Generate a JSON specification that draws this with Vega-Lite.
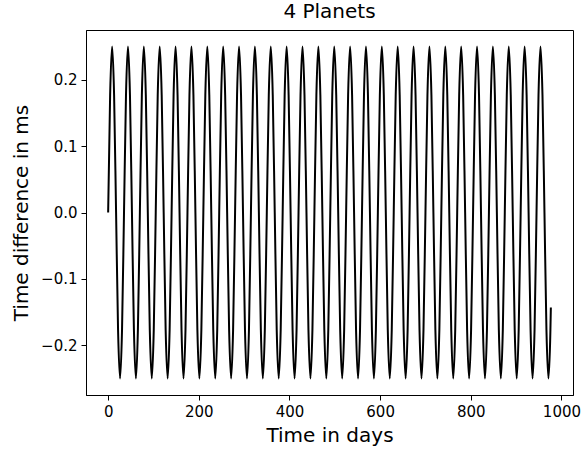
{
  "$schema": "https://vega.github.io/schema/vega-lite/v6.json",
  "width": 487,
  "height": 365,
  "autosize": {"type": "none"},
  "padding": {"left": 86, "top": 30, "right": 9, "bottom": 57},
  "background": "white",
  "config": {
    "font": "DejaVu Sans",
    "view": {"stroke": "#000000", "strokeWidth": 1},
    "axis": {
      "grid": false,
      "domainColor": "#000000",
      "domainWidth": 1,
      "tickColor": "#000000",
      "tickWidth": 1,
      "tickSize": 5,
      "labelColor": "#000000",
      "titleColor": "#000000",
      "labelFont": "DejaVu Sans",
      "titleFont": "DejaVu Sans",
      "labelFontSize": 15,
      "titleFontSize": 20,
      "titleFontWeight": "normal"
    },
    "title": {"font": "DejaVu Sans", "fontSize": 20, "fontWeight": "normal", "color": "#000000", "offset": 8}
  },
  "title": {"text": "4 Planets", "anchor": "middle", "frame": "group"},
  "data": {
    "values": [
      {"day": 0, "dt": 0}, {"day": 4.375, "dt": 0.177}, {"day": 8.75, "dt": 0.25}, {"day": 13.125, "dt": 0.177}, {"day": 17.5, "dt": 0}, {"day": 21.875, "dt": -0.177}, {"day": 26.25, "dt": -0.25}, {"day": 30.625, "dt": -0.177},
      {"day": 35, "dt": 0}, {"day": 39.375, "dt": 0.177}, {"day": 43.75, "dt": 0.25}, {"day": 48.125, "dt": 0.177}, {"day": 52.5, "dt": 0}, {"day": 56.875, "dt": -0.177}, {"day": 61.25, "dt": -0.25}, {"day": 65.625, "dt": -0.177},
      {"day": 70, "dt": 0}, {"day": 74.375, "dt": 0.177}, {"day": 78.75, "dt": 0.25}, {"day": 83.125, "dt": 0.177}, {"day": 87.5, "dt": 0}, {"day": 91.875, "dt": -0.177}, {"day": 96.25, "dt": -0.25}, {"day": 100.625, "dt": -0.177},
      {"day": 105, "dt": 0}, {"day": 109.375, "dt": 0.177}, {"day": 113.75, "dt": 0.25}, {"day": 118.125, "dt": 0.177}, {"day": 122.5, "dt": 0}, {"day": 126.875, "dt": -0.177}, {"day": 131.25, "dt": -0.25}, {"day": 135.625, "dt": -0.177},
      {"day": 140, "dt": 0}, {"day": 144.375, "dt": 0.177}, {"day": 148.75, "dt": 0.25}, {"day": 153.125, "dt": 0.177}, {"day": 157.5, "dt": 0}, {"day": 161.875, "dt": -0.177}, {"day": 166.25, "dt": -0.25}, {"day": 170.625, "dt": -0.177},
      {"day": 175, "dt": 0}, {"day": 179.375, "dt": 0.177}, {"day": 183.75, "dt": 0.25}, {"day": 188.125, "dt": 0.177}, {"day": 192.5, "dt": 0}, {"day": 196.875, "dt": -0.177}, {"day": 201.25, "dt": -0.25}, {"day": 205.625, "dt": -0.177},
      {"day": 210, "dt": 0}, {"day": 214.375, "dt": 0.177}, {"day": 218.75, "dt": 0.25}, {"day": 223.125, "dt": 0.177}, {"day": 227.5, "dt": 0}, {"day": 231.875, "dt": -0.177}, {"day": 236.25, "dt": -0.25}, {"day": 240.625, "dt": -0.177},
      {"day": 245, "dt": 0}, {"day": 249.375, "dt": 0.177}, {"day": 253.75, "dt": 0.25}, {"day": 258.125, "dt": 0.177}, {"day": 262.5, "dt": 0}, {"day": 266.875, "dt": -0.177}, {"day": 271.25, "dt": -0.25}, {"day": 275.625, "dt": -0.177},
      {"day": 280, "dt": 0}, {"day": 284.375, "dt": 0.177}, {"day": 288.75, "dt": 0.25}, {"day": 293.125, "dt": 0.177}, {"day": 297.5, "dt": 0}, {"day": 301.875, "dt": -0.177}, {"day": 306.25, "dt": -0.25}, {"day": 310.625, "dt": -0.177},
      {"day": 315, "dt": 0}, {"day": 319.375, "dt": 0.177}, {"day": 323.75, "dt": 0.25}, {"day": 328.125, "dt": 0.177}, {"day": 332.5, "dt": 0}, {"day": 336.875, "dt": -0.177}, {"day": 341.25, "dt": -0.25}, {"day": 345.625, "dt": -0.177},
      {"day": 350, "dt": 0}, {"day": 354.375, "dt": 0.177}, {"day": 358.75, "dt": 0.25}, {"day": 363.125, "dt": 0.177}, {"day": 367.5, "dt": 0}, {"day": 371.875, "dt": -0.177}, {"day": 376.25, "dt": -0.25}, {"day": 380.625, "dt": -0.177},
      {"day": 385, "dt": 0}, {"day": 389.375, "dt": 0.177}, {"day": 393.75, "dt": 0.25}, {"day": 398.125, "dt": 0.177}, {"day": 402.5, "dt": 0}, {"day": 406.875, "dt": -0.177}, {"day": 411.25, "dt": -0.25}, {"day": 415.625, "dt": -0.177},
      {"day": 420, "dt": 0}, {"day": 424.375, "dt": 0.177}, {"day": 428.75, "dt": 0.25}, {"day": 433.125, "dt": 0.177}, {"day": 437.5, "dt": 0}, {"day": 441.875, "dt": -0.177}, {"day": 446.25, "dt": -0.25}, {"day": 450.625, "dt": -0.177},
      {"day": 455, "dt": 0}, {"day": 459.375, "dt": 0.177}, {"day": 463.75, "dt": 0.25}, {"day": 468.125, "dt": 0.177}, {"day": 472.5, "dt": 0}, {"day": 476.875, "dt": -0.177}, {"day": 481.25, "dt": -0.25}, {"day": 485.625, "dt": -0.177},
      {"day": 490, "dt": 0}, {"day": 494.375, "dt": 0.177}, {"day": 498.75, "dt": 0.25}, {"day": 503.125, "dt": 0.177}, {"day": 507.5, "dt": 0}, {"day": 511.875, "dt": -0.177}, {"day": 516.25, "dt": -0.25}, {"day": 520.625, "dt": -0.177},
      {"day": 525, "dt": 0}, {"day": 529.375, "dt": 0.177}, {"day": 533.75, "dt": 0.25}, {"day": 538.125, "dt": 0.177}, {"day": 542.5, "dt": 0}, {"day": 546.875, "dt": -0.177}, {"day": 551.25, "dt": -0.25}, {"day": 555.625, "dt": -0.177},
      {"day": 560, "dt": 0}, {"day": 564.375, "dt": 0.177}, {"day": 568.75, "dt": 0.25}, {"day": 573.125, "dt": 0.177}, {"day": 577.5, "dt": 0}, {"day": 581.875, "dt": -0.177}, {"day": 586.25, "dt": -0.25}, {"day": 590.625, "dt": -0.177},
      {"day": 595, "dt": 0}, {"day": 599.375, "dt": 0.177}, {"day": 603.75, "dt": 0.25}, {"day": 608.125, "dt": 0.177}, {"day": 612.5, "dt": 0}, {"day": 616.875, "dt": -0.177}, {"day": 621.25, "dt": -0.25}, {"day": 625.625, "dt": -0.177},
      {"day": 630, "dt": 0}, {"day": 634.375, "dt": 0.177}, {"day": 638.75, "dt": 0.25}, {"day": 643.125, "dt": 0.177}, {"day": 647.5, "dt": 0}, {"day": 651.875, "dt": -0.177}, {"day": 656.25, "dt": -0.25}, {"day": 660.625, "dt": -0.177},
      {"day": 665, "dt": 0}, {"day": 669.375, "dt": 0.177}, {"day": 673.75, "dt": 0.25}, {"day": 678.125, "dt": 0.177}, {"day": 682.5, "dt": 0}, {"day": 686.875, "dt": -0.177}, {"day": 691.25, "dt": -0.25}, {"day": 695.625, "dt": -0.177},
      {"day": 700, "dt": 0}, {"day": 704.375, "dt": 0.177}, {"day": 708.75, "dt": 0.25}, {"day": 713.125, "dt": 0.177}, {"day": 717.5, "dt": 0}, {"day": 721.875, "dt": -0.177}, {"day": 726.25, "dt": -0.25}, {"day": 730.625, "dt": -0.177},
      {"day": 735, "dt": 0}, {"day": 739.375, "dt": 0.177}, {"day": 743.75, "dt": 0.25}, {"day": 748.125, "dt": 0.177}, {"day": 752.5, "dt": 0}, {"day": 756.875, "dt": -0.177}, {"day": 761.25, "dt": -0.25}, {"day": 765.625, "dt": -0.177},
      {"day": 770, "dt": 0}, {"day": 774.375, "dt": 0.177}, {"day": 778.75, "dt": 0.25}, {"day": 783.125, "dt": 0.177}, {"day": 787.5, "dt": 0}, {"day": 791.875, "dt": -0.177}, {"day": 796.25, "dt": -0.25}, {"day": 800.625, "dt": -0.177},
      {"day": 805, "dt": 0}, {"day": 809.375, "dt": 0.177}, {"day": 813.75, "dt": 0.25}, {"day": 818.125, "dt": 0.177}, {"day": 822.5, "dt": 0}, {"day": 826.875, "dt": -0.177}, {"day": 831.25, "dt": -0.25}, {"day": 835.625, "dt": -0.177},
      {"day": 840, "dt": 0}, {"day": 844.375, "dt": 0.177}, {"day": 848.75, "dt": 0.25}, {"day": 853.125, "dt": 0.177}, {"day": 857.5, "dt": 0}, {"day": 861.875, "dt": -0.177}, {"day": 866.25, "dt": -0.25}, {"day": 870.625, "dt": -0.177},
      {"day": 875, "dt": 0}, {"day": 879.375, "dt": 0.177}, {"day": 883.75, "dt": 0.25}, {"day": 888.125, "dt": 0.177}, {"day": 892.5, "dt": 0}, {"day": 896.875, "dt": -0.177}, {"day": 901.25, "dt": -0.25}, {"day": 905.625, "dt": -0.177},
      {"day": 910, "dt": 0}, {"day": 914.375, "dt": 0.177}, {"day": 918.75, "dt": 0.25}, {"day": 923.125, "dt": 0.177}, {"day": 927.5, "dt": 0}, {"day": 931.875, "dt": -0.177}, {"day": 936.25, "dt": -0.25}, {"day": 940.625, "dt": -0.177},
      {"day": 945, "dt": 0}, {"day": 949.375, "dt": 0.177}, {"day": 953.75, "dt": 0.25}, {"day": 958.125, "dt": 0.177}, {"day": 962.5, "dt": 0}, {"day": 966.875, "dt": -0.177}, {"day": 971.25, "dt": -0.25}, {"day": 975.625, "dt": -0.177},
      {"day": 976.6, "dt": -0.143}
    ]
  },
  "mark": {"type": "line", "color": "#000000", "strokeWidth": 2, "interpolate": "monotone", "clip": true},
  "encoding": {
    "x": {
      "field": "day",
      "type": "quantitative",
      "scale": {"domain": [-48.85, 1025.45], "nice": false, "zero": false},
      "axis": {"values": [0, 200, 400, 600, 800, 1000], "format": "d", "title": "Time in days", "labelPadding": 4, "titlePadding": 6}
    },
    "y": {
      "field": "dt",
      "type": "quantitative",
      "scale": {"domain": [-0.275, 0.275], "nice": false, "zero": false},
      "axis": {"values": [-0.2, -0.1, 0, 0.1, 0.2], "format": ".1f", "title": "Time difference in ms", "labelPadding": 4, "titlePadding": 9}
    }
  }
}
